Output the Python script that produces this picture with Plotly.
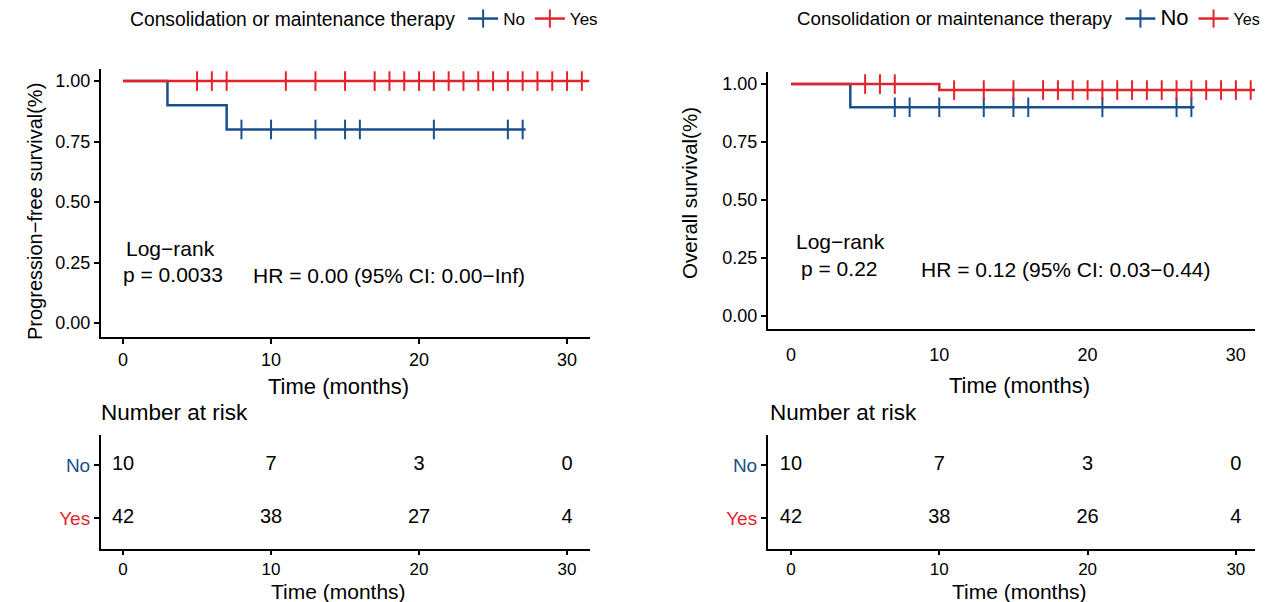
import plotly.graph_objects as go

# ---------------- data ----------------
groups = ["No", "Yes"]
blue = "#1A4F8E"
red = "#E3232B"

# Progression-free survival: step curves (time, survival) and censor times
pfs_no_time = [0, 3, 7, 27.2]
pfs_no_surv = [1.0, 0.9, 0.8, 0.8]
pfs_no_cens = [8, 10, 13, 15, 16, 21, 26, 27]
pfs_yes_time = [0, 31.5]
pfs_yes_surv = [1.0, 1.0]
pfs_yes_cens = [5, 6, 7, 11, 13, 15, 17, 18, 19, 20, 21, 22, 23, 24, 25, 26, 27, 28, 29, 30, 31]

# Overall survival
os_no_time = [0, 4, 27.2]
os_no_surv = [1.0, 0.9, 0.9]
os_no_cens = [7, 8, 10, 13, 15, 16, 21, 26, 27]
os_yes_time = [0, 10, 31.4]
os_yes_surv = [1.0, 0.974, 0.974]
os_yes_cens = [5, 6, 7, 11, 13, 15, 17, 18, 19, 20, 21, 22, 23, 24, 25, 26, 27, 28, 29, 30, 31]

# Number at risk
risk_times = [0, 10, 20, 30]
pfs_risk_no = [10, 7, 3, 0]
pfs_risk_yes = [42, 38, 27, 4]
os_risk_no = [10, 7, 3, 0]
os_risk_yes = [42, 38, 26, 4]

surv_ticks = [0, 0.25, 0.5, 0.75, 1.0]
time_ticks = [0, 10, 20, 30]

FONT = "Liberation Sans, Arial, Helvetica, sans-serif"


def step_value(times, surv, t):
    v = surv[0]
    for ti, si in zip(times, surv):
        if ti <= t:
            v = si
    return v


fig = go.Figure()


def add_km(times, surv, cens, color, xa, ya):
    fig.add_trace(go.Scatter(x=times, y=surv, mode="lines", line=dict(color=color, width=2.5, shape="hv"),
                             xaxis=xa, yaxis=ya, showlegend=False, hoverinfo="skip"))
    fig.add_trace(go.Scatter(x=cens, y=[step_value(times, surv, t) for t in cens], mode="markers",
                             marker=dict(symbol="line-ns-open", size=14, color=color, line=dict(width=2, color=color)),
                             xaxis=xa, yaxis=ya, showlegend=False, hoverinfo="skip"))


add_km(pfs_no_time, pfs_no_surv, pfs_no_cens, blue, "x", "y")
add_km(pfs_yes_time, pfs_yes_surv, pfs_yes_cens, red, "x", "y")
add_km(os_no_time, os_no_surv, os_no_cens, blue, "x2", "y2")
add_km(os_yes_time, os_yes_surv, os_yes_cens, red, "x2", "y2")

# legend entries
for lg, names in (("legend", ["No", "Yes"]),
                  ("legend2", ["<span style='font-size:22px'>No</span>", "<span style='font-size:16px'>Yes</span>"])):
    for nm, col in zip(names, [blue, red]):
        fig.add_trace(go.Scatter(x=[None], y=[None], mode="lines+markers", name=nm, legend=lg,
                                 line=dict(color=col, width=2.5),
                                 marker=dict(symbol="line-ns-open", size=13, color=col, line=dict(width=2, color=col)),
                                 xaxis="x", yaxis="y"))

# risk tables
for xa, ya, no_vals, yes_vals in (("x3", "y3", pfs_risk_no, pfs_risk_yes), ("x4", "y4", os_risk_no, os_risk_yes)):
    fig.add_trace(go.Scatter(x=risk_times, y=[1] * len(risk_times), mode="text", text=[str(v) for v in no_vals],
                             textfont=dict(size=20, color="black", family=FONT), xaxis=xa, yaxis=ya,
                             showlegend=False, hoverinfo="skip"))
    fig.add_trace(go.Scatter(x=risk_times, y=[0] * len(risk_times), mode="text", text=[str(v) for v in yes_vals],
                             textfont=dict(size=20, color="black", family=FONT), xaxis=xa, yaxis=ya,
                             showlegend=False, hoverinfo="skip"))

W, H = 1269, 602


def px(x):
    return x / W


def py(y):
    return 1 - y / H


axis_common = dict(showline=True, linewidth=2, linecolor="black", showgrid=False, zeroline=False,
                   ticks="outside", ticklen=5, tickwidth=1.5, tickcolor="black",
                   tickfont=dict(size=18, color="black", family=FONT), fixedrange=True)

left_dom = [px(101), px(590)]
right_dom = [px(768), px(1255)]
left_xr = [-1.49, 31.55]
right_xr = [-1.55, 31.29]
risk_ticktext = [f"<span style='color:{red}'>Yes</span>", f"<span style='color:{blue}'>No</span>"]
risk_xfont = dict(size=17, color="black", family=FONT)

layout = dict(
    width=W, height=H, margin=dict(l=0, r=0, t=0, b=0),
    paper_bgcolor="white", plot_bgcolor="white",
    font=dict(family=FONT, color="black"),
    xaxis=dict(axis_common, domain=left_dom, range=left_xr, tickvals=time_ticks, anchor="y"),
    yaxis=dict(axis_common, domain=[py(337), py(69)], range=[-0.058, 1.05], tickvals=surv_ticks,
               tickformat=".2f", anchor="x"),
    xaxis2=dict(axis_common, domain=right_dom, range=right_xr, tickvals=time_ticks, anchor="y2",
                tickcolor="white", ticklen=8),
    yaxis2=dict(axis_common, domain=[py(329), py(72)], range=[-0.056, 1.052], tickvals=surv_ticks,
                tickformat=".2f", anchor="x2"),
    xaxis3=dict(axis_common, domain=left_dom, range=left_xr, tickvals=time_ticks, anchor="y3",
                ticklen=4, tickfont=risk_xfont),
    yaxis3=dict(axis_common, domain=[py(549), py(435)], range=[-0.585, 1.566], tickvals=[0, 1],
                ticktext=risk_ticktext, tickfont=dict(size=19, family=FONT), anchor="x3"),
    xaxis4=dict(axis_common, domain=right_dom, range=right_xr, tickvals=time_ticks, anchor="y4",
                ticklen=4, tickfont=risk_xfont),
    yaxis4=dict(axis_common, domain=[py(549), py(435)], range=[-0.585, 1.566], tickvals=[0, 1],
                ticktext=risk_ticktext, tickfont=dict(size=19, family=FONT), anchor="x4"),
    legend=dict(orientation="h", x=px(128), y=py(1), xanchor="left", yanchor="top",
                title=dict(text="Consolidation or maintenance therapy", side="left", font=dict(size=19.3)),
                font=dict(size=17), itemwidth=30, bgcolor="rgba(0,0,0,0)"),
    legend2=dict(orientation="h", x=px(795), y=py(1), xanchor="left", yanchor="top",
                 title=dict(text="Consolidation or maintenance therapy", side="left", font=dict(size=18.7)),
                 font=dict(size=17), itemwidth=30, bgcolor="rgba(0,0,0,0)"),
)
fig.update_layout(**layout)

ann = []


def text(t, x, y, size, xanchor="left", angle=0):
    ann.append(dict(text=t, x=px(x), y=py(y), xref="paper", yref="paper", xanchor=xanchor, yanchor="middle",
                    showarrow=False, textangle=angle, font=dict(size=size, color="black", family=FONT)))


# axis titles
text("Time (months)", 338, 386, 22, "center")
text("Time (months)", 1019, 385, 22, "center")
text("Time (months)", 338, 591, 21, "center")
text("Time (months)", 1019, 591, 21, "center")
text("Progression\u2212free survival(%)", 35, 212, 20, "center", -90)
text("Overall survival(%)", 690, 193, 20.5, "center", -90)
# statistics
text("Log\u2212rank", 124, 248, 21)
text("p = 0.0033", 121, 274, 21)
text("HR = 0.00 (95% CI: 0.00\u2212Inf)", 251, 275, 21)
text("Log\u2212rank", 794, 241, 21)
text("p = 0.22", 799, 268, 21)
text("HR = 0.12 (95% CI: 0.03\u22120.44)", 919, 270, 21)
# risk table titles
text("Number at risk", 99, 412, 22.5)
text("Number at risk", 768, 412, 22.5)

fig.update_layout(annotations=ann)
fig.write_html("out.html")
